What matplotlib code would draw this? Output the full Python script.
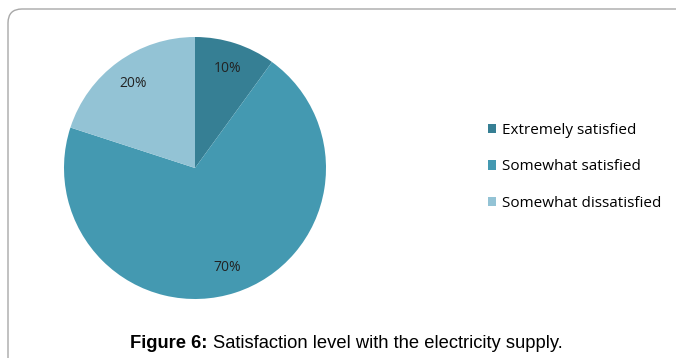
import matplotlib.pyplot as plt
from matplotlib.patches import FancyBboxPatch

labels = ["Extremely satisfied", "Somewhat satisfied", "Somewhat dissatisfied"]
shares = [10, 70, 20]
colors = ["#367F94", "#4499B1", "#93C3D5"]

W, H = 676, 358
fig = plt.figure(figsize=(W / 100, H / 100), dpi=100)
ax = fig.add_axes([0, 0, 1, 1])

# rounded frame, runs off the right and bottom edges
frame = FancyBboxPatch((8, -20), W + 20, H - 9 + 20,
                       boxstyle="round,pad=0,rounding_size=14",
                       facecolor="white", edgecolor="#a8a8a8", linewidth=1.0)
ax.add_patch(frame)

wedges, _, autotexts = ax.pie(
    shares, colors=colors, startangle=90, counterclock=False,
    center=(195, H - 168), radius=131, autopct="%d%%", pctdistance=0.8,
    frame=True, textprops={"fontsize": 10, "color": "#222222", "family": "Open Sans"},
)
ax.set_xlim(0, W)
ax.set_ylim(0, H)
ax.set_aspect("equal")
ax.axis("off")

ax.legend(wedges, labels, loc="center left", bbox_to_anchor=(474 / W, 1 - 167 / H),
          frameon=False, handlelength=0.55, handleheight=0.55, handletextpad=0.4,
          labelspacing=1.4, prop={"family": "Open Sans", "size": 11})

# caption: bold lead-in followed by regular text
cap_y = 1 - 343 / H
t1 = fig.text(130 / W, cap_y, "Figure 6:", ha="left", va="center",
              fontsize=13.2, fontweight="bold", family="Liberation Sans")
fig.canvas.draw()
bb = t1.get_window_extent()
fig.text((bb.x1 + 6) / W, cap_y, "Satisfaction level with the electricity supply.",
         ha="left", va="center", fontsize=13.2, family="Liberation Sans")

fig.savefig("out.png", dpi=100)
